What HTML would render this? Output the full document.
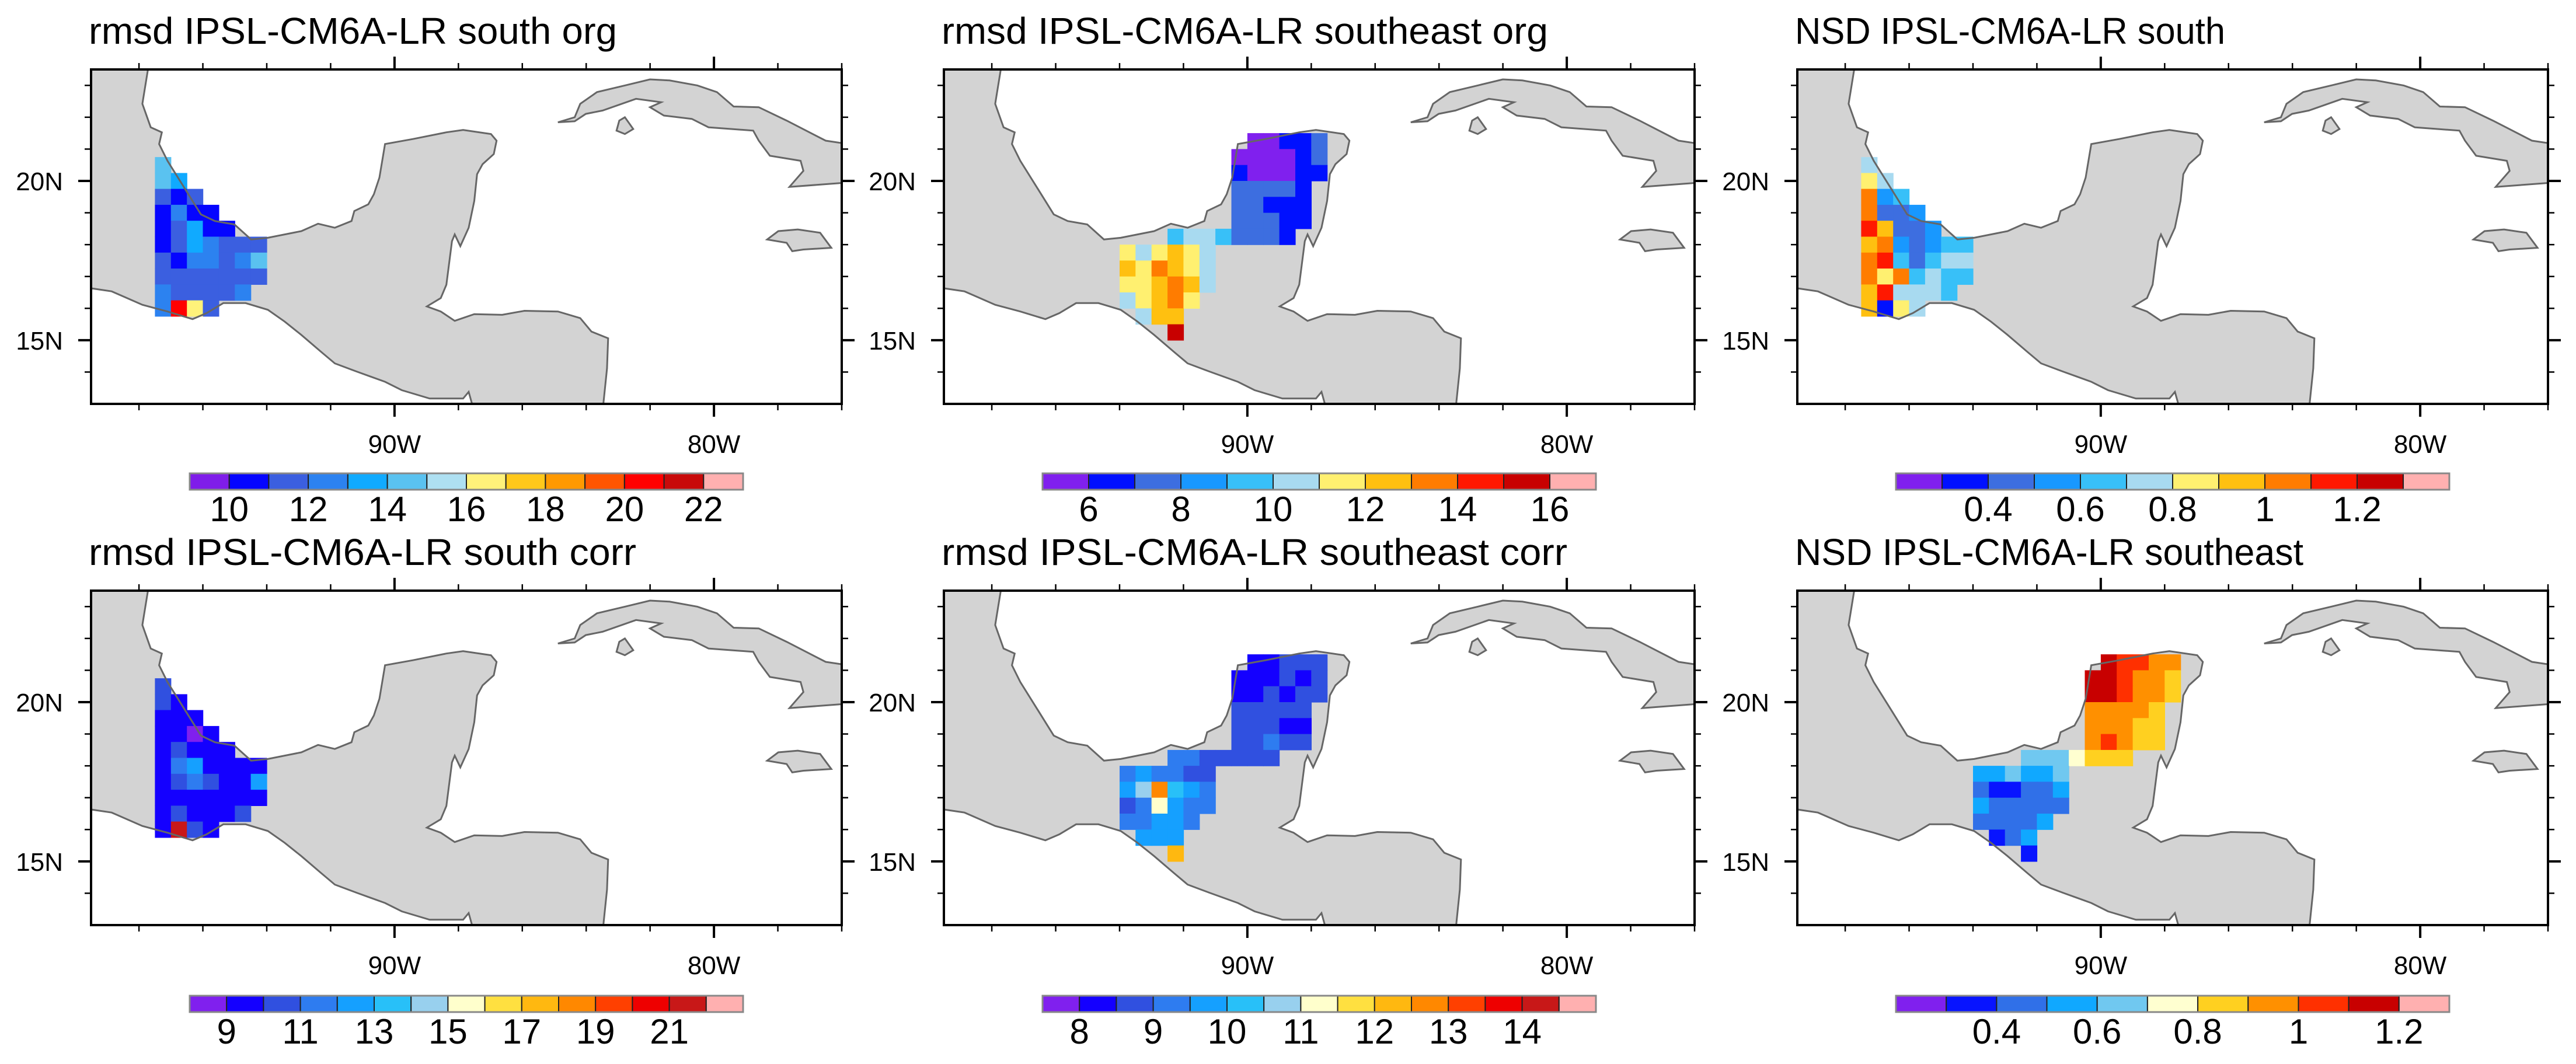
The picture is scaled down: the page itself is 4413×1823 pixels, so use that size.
<!DOCTYPE html>
<html><head><meta charset="utf-8"><title>IPSL-CM6A-LR rmsd / NSD maps</title>
<style>html,body{margin:0;padding:0;background:#fff;}svg{display:block;}</style></head>
<body>
<svg id="fig" xmlns="http://www.w3.org/2000/svg" width="4413" height="1823" viewBox="0 0 4413 1823" font-family="'Liberation Sans', sans-serif"></svg>
<script>
// ---------- data ----------
const titles = ["rmsd IPSL-CM6A-LR south org","rmsd IPSL-CM6A-LR southeast org","NSD IPSL-CM6A-LR south",
                "rmsd IPSL-CM6A-LR south corr","rmsd IPSL-CM6A-LR southeast corr","NSD IPSL-CM6A-LR southeast"];
const xTickLabels = ["90W","80W"];
const xTickLons = [-90,-80];
const yTickLabels = ["20N","15N"];
const yTickLats = [20,15];
// colorbar definitions: first interior level (boundary 1), box step, label texts and their boundary index
const cb1Start = 10,  cb1Step = 1,   cb1Labels = ["10","12","14","16","18","20","22"], cb1LabelIdx = [1,3,5,7,9,11,13];
const cb2Start = 6,   cb2Step = 1,   cb2Labels = ["6","8","10","12","14","16"], cb2LabelIdx = [1,3,5,7,9,11];
const cb3Start = 0.3, cb3Step = 0.1, cb3Labels = ["0.4","0.6","0.8","1","1.2"], cb3LabelIdx = [2,4,6,8,10];
const cb4Start = 9,   cb4Step = 1,   cb4Labels = ["9","11","13","15","17","19","21"], cb4LabelIdx = [1,3,5,7,9,11,13];
const cb5Start = 8,   cb5Step = 0.5, cb5Labels = ["8","9","10","11","12","13","14"], cb5LabelIdx = [1,3,5,7,9,11,13];
const cb6Start = 0.3, cb6Step = 0.1, cb6Labels = ["0.4","0.6","0.8","1","1.2"], cb6LabelIdx = [2,4,6,8,10];
const pal14 = ["#7f1de9","#0505ff","#3b5fe0","#2c82f0","#10aaff","#5ac2f0","#aee0f2","#fff27a","#ffc81a","#ff9900","#ff5500","#ff0000","#c80a0a","#ffb0b0"];
const pal12 = ["#8020ee","#0010ff","#3d6ee0","#1898ff","#38c0f8","#a8daf0","#fff070","#ffc010","#ff7c00","#ff1800","#c80000","#ffb0b0"];
const pal15 = ["#8020ee","#1400ff","#3050e0","#2e7cf0","#15a0ff","#28c0f8","#98d0ee","#ffffcc","#ffe040","#ffb810","#ff8800","#ff4000","#ee0000","#c81818","#ffb0b0"];
const pal11 = ["#8020ee","#0814ff","#3070e8","#10a8ff","#70c8f0","#ffffd0","#ffd020","#ff9000","#ff3000","#c80000","#ffb0b0"];
const n = null;
// south grids: origin lon -97.5, top lat 20.75, 0.5 deg cells
const southOrg = [
 [14,n,n,n,n,n,n],[14,13,n,n,n,n,n],[11,10.5,11,n,n,n,n],[10.5,12,10.5,10.5,n,n,n],
 [10,11,13,10.5,10.5,n,n],[10.5,11,13.5,12,11,11.5,11],[11,10.5,12,12,11,12,14],
 [11,11,11,11,11,11.5,11.5],[12,11,11.5,11,11.5,12,n],[12,20,16,11,n,n,n]];
const southCorr = [
 [10.5,n,n,n,n,n,n],[10,9.5,n,n,n,n,n],[9.5,9.5,9.5,n,n,n,n],[9.5,9.5,8.5,9.5,n,n,n],
 [9.5,10.5,9.5,9.5,9.5,n,n],[9.5,11.5,12.5,9.5,9.5,9.5,9.5],[9.5,10,11,10.5,9.5,9.5,12],
 [9.5,9.5,9.5,9.5,9.5,9.5,9.5],[9.5,10.5,9.5,9.5,9.5,10,n],[9.5,21,10.5,9.5,n,n,n]];
const southNsd = [
 [0.7,n,n,n,n,n,n],[0.8,0.75,n,n,n,n,n],[1.0,0.5,0.6,n,n,n,n],[1.05,0.45,0.4,0.55,n,n,n],
 [1.1,0.9,0.45,0.45,0.55,n,n],[0.95,1.05,0.5,0.4,0.55,0.6,0.65],[1.0,1.1,0.6,0.45,0.6,0.75,0.7],
 [1.05,0.85,1.0,0.6,0.7,0.65,0.6],[0.95,1.15,0.75,0.7,0.7,0.65,n],[0.9,0.35,0.8,0.7,n,n,n]];
// southeast grids: origin lon -94, top lat 21.5, 0.5 deg cells, 14 cols
const seOrg = [
 [n,n,n,n,n,n,n, n,5.5,5.5,6,6.5,7,n],[n,n,n,n,n,n,n, 5.5,5.5,5.5,5.5,6,7,n],
 [n,n,n,n,n,n,n, 6,5.5,5.5,5.5,6.5,6.5,n],[n,n,n,n,n,n,n, 7,7,7,7,6.5,n,n],
 [n,n,n,n,n,n,n, 7,7,6.5,6.5,6.5,n,n],[n,n,n,n,n,n,n, 7,7,7,6.5,6.5,n,n],
 [n,n,n,9.5,10.5,10,9.5, 7,7,7,6.5,n,n,n],[11,10.5,11,12,11.5,10.5,n, n,n,n,n,n,n,n],
 [12,11,13,12.5,11,10.5,n, n,n,n,n,n,n,n],[11.5,11,12,13,12,10.5,n, n,n,n,n,n,n,n],
 [10.5,11,12.5,13,11.5,n,n, n,n,n,n,n,n,n],[n,10.5,12,12.5,n,n,n, n,n,n,n,n,n,n],
 [n,n,n,15,n,n,n, n,n,n,n,n,n,n]];
const seCorr = [
 [n,n,n,n,n,n,n, n,8.2,8.2,8.7,8.7,8.7,n],[n,n,n,n,n,n,n, 8.2,8.2,8.2,8.7,8.2,8.7,n],
 [n,n,n,n,n,n,n, 8.2,8.2,8.7,8.2,8.7,8.7,n],[n,n,n,n,n,n,n, 8.7,8.7,8.7,8.7,8.7,n,n],
 [n,n,n,n,n,n,n, 8.7,8.7,8.7,8.2,8.2,n,n],[n,n,n,n,n,n,n, 8.7,8.7,9.2,8.7,8.7,n,n],
 [n,n,n,9.2,9.2,8.7,8.7, 8.7,8.7,8.7,n,n,n,n],[9.2,9.7,9.2,9.2,8.7,8.7,n, n,n,n,n,n,n,n],
 [9.7,10.7,12.7,10.2,9.7,9.2,n, n,n,n,n,n,n,n],[8.7,9.2,11.2,9.7,9.2,9.2,n, n,n,n,n,n,n,n],
 [9.2,9.2,9.7,9.7,9.2,n,n, n,n,n,n,n,n,n],[n,9.7,9.7,9.7,n,n,n, n,n,n,n,n,n,n],
 [n,n,n,12.2,n,n,n, n,n,n,n,n,n,n]];
const seNsd = [
 [n,n,n,n,n,n,n, n,1.15,1.05,1.0,0.95,0.9,n],[n,n,n,n,n,n,n, 1.15,1.15,1.05,0.95,0.9,0.85,n],
 [n,n,n,n,n,n,n, 1.15,1.1,1.0,0.95,0.9,0.8,n],[n,n,n,n,n,n,n, 0.95,0.95,0.9,0.9,0.85,n,n],
 [n,n,n,n,n,n,n, 0.95,0.95,0.9,0.85,0.85,n,n],[n,n,n,n,n,n,n, 0.95,1.0,0.95,0.85,0.85,n,n],
 [n,n,n,0.6,0.65,0.65,0.75, 0.85,0.85,0.85,n,n,n,n],[0.55,0.55,0.6,0.55,0.55,0.6,n, n,n,n,n,n,n,n],
 [0.4,0.35,0.35,0.4,0.45,0.55,n, n,n,n,n,n,n,n],[0.55,0.45,0.4,0.45,0.45,0.4,n, n,n,n,n,n,n,n],
 [0.45,0.4,0.45,0.45,0.55,n,n, n,n,n,n,n,n,n],[n,0.35,0.45,0.5,n,n,n, n,n,n,n,n,n,n],
 [n,n,n,0.35,n,n,n, n,n,n,n,n,n,n]];

// ---------- layout ----------
const NS = "http://www.w3.org/2000/svg";
const svg = document.getElementById("fig");
const colX = [156,1617,3079], rowY = [119,1012];
const W = 1286, H = 573;
const LON0 = -99.5, LON1 = -76.0, LAT0 = 13.0, LAT1 = 23.5;
function xs(lon){ return (lon-LON0)/(LON1-LON0)*W; }
function ys(lat){ return (LAT1-lat)/(LAT1-LAT0)*H; }
function el(tag, attrs, parent){ const e=document.createElementNS(NS,tag); for(const k in attrs) e.setAttribute(k,attrs[k]); (parent||svg).appendChild(e); return e; }

function toLL(pts){ return pts.map(p=>[LON0+(p[0]/1.045-156)/54.8, LAT1-(p[1]/1.742-119)/54.6]); }
const mainland = toLL([[120,150],[265,150],[265,207],[255,310],[270,380],[290,395],[285,430],[300,480],[330,560],[360,640],[385,660],[420,670],[450,715],[480,710],[540,690],[570,668],[600,680],[630,660],[635,630],[660,610],[670,580],[680,530],[690,430],[740,415],[800,395],[830,388],[880,400],[890,420],[885,460],[865,490],[855,520],[850,600],[840,680],[825,735],[815,700],[810,720],[800,850],[790,890],[765,915],[790,930],[815,958],[850,938],[900,940],[940,928],[1000,930],[1040,950],[1060,990],[1090,1010],[1088,1100],[1078,1260],[855,1260],[840,1170],[830,1190],[770,1190],[720,1165],[690,1140],[640,1110],[600,1085],[575,1050],[540,1000],[510,960],[480,925],[440,905],[400,905],[370,935],[345,953],[300,930],[255,910],[200,870],[120,850]]);
const cuba = toLL([[1000,365],[1030,350],[1040,310],[1070,275],[1120,255],[1165,237],[1200,240],[1250,255],[1285,275],[1315,318],[1360,320],[1410,360],[1480,420],[1560,440],[1560,540],[1415,558],[1440,510],[1435,480],[1380,465],[1360,420],[1350,390],[1270,380],[1240,355],[1190,345],[1165,320],[1185,305],[1140,295],[1080,330],[1050,340],[1030,362]]);
const jamaica = toLL([[1375,715],[1395,690],[1430,685],[1470,695],[1490,740],[1440,745],[1420,750],[1410,725]]);
const isla = toLL([[1105,390],[1110,360],[1120,350],[1135,385],[1120,400]]);
const lands = [["mainland",mainland],["cuba",cuba],["jamaica",jamaica],["isla-juventud",isla]];

const panels = [
 {grid:southOrg, lon0:-97.5, lat0:20.75, pal:pal14, s:cb1Start, st:cb1Step, lab:cb1Labels, li:cb1LabelIdx},
 {grid:seOrg,    lon0:-94,   lat0:21.5,  pal:pal12, s:cb2Start, st:cb2Step, lab:cb2Labels, li:cb2LabelIdx},
 {grid:southNsd, lon0:-97.5, lat0:20.75, pal:pal12, s:cb3Start, st:cb3Step, lab:cb3Labels, li:cb3LabelIdx},
 {grid:southCorr,lon0:-97.5, lat0:20.75, pal:pal15, s:cb4Start, st:cb4Step, lab:cb4Labels, li:cb4LabelIdx},
 {grid:seCorr,   lon0:-94,   lat0:21.5,  pal:pal15, s:cb5Start, st:cb5Step, lab:cb5Labels, li:cb5LabelIdx},
 {grid:seNsd,    lon0:-94,   lat0:21.5,  pal:pal11, s:cb6Start, st:cb6Step, lab:cb6Labels, li:cb6LabelIdx}];
const D = 0.5;

panels.forEach((p,i)=>{
  const ox = colX[i%3], oy = rowY[Math.floor(i/3)];
  const g = el("g",{transform:`translate(${ox},${oy})`});
  
  
  const t = el("text",{x:-4,y:-44,"font-size":64,fill:"#000",textLength:Math.round(titles[i].length*33.5),lengthAdjust:"spacingAndGlyphs"},g);
  t.textContent = titles[i];
  
  
  const cp = el("clipPath",{id:"clip"+i},g);
  el("rect",{x:0,y:0,width:W,height:H},cp);
  const inner = el("g",{"clip-path":`url(#clip${i})`},g);
  lands.forEach(([nm,pts])=>{
    const d = "M"+pts.map(q=>xs(q[0]).toFixed(1)+","+ys(q[1]).toFixed(1)).join("L")+"Z";
    const lp = el("path",{d:d,fill:"#d3d3d3",stroke:"none"},inner);
    
    
  });
  const cells = el("g",{},inner);
  
  
  p.grid.forEach((row,r)=>row.forEach((v,c)=>{
    if(v===null) return;
    let k = Math.floor((v-p.s)/p.st+1e-9)+1; k = Math.max(0,Math.min(p.pal.length-1,k));
    const lon = p.lon0 + c*D, lat = p.lat0 - r*D;
    const x0 = xs(lon), x1 = xs(lon+D), y0 = ys(lat), y1 = ys(lat-D);
    const rc = el("rect",{x:x0.toFixed(1),y:y0.toFixed(1),width:(x1-x0+0.6).toFixed(1),height:(y1-y0+0.6).toFixed(1),fill:p.pal[k]},cells);
    
    
  }));
  lands.forEach(([nm,pts])=>{
    const d = "M"+pts.map(q=>xs(q[0]).toFixed(1)+","+ys(q[1]).toFixed(1)).join("L")+"Z";
    el("path",{d:d,fill:"none",stroke:"#666","stroke-width":3},inner);
  });
  const frame = el("rect",{x:0,y:0,width:W,height:H,fill:"none",stroke:"#000","stroke-width":4},g);
  
  
  for(let lon=-98; lon<=-76; lon+=2){
    const x = xs(lon), major = xTickLons.includes(lon), L = major?22:11;
    el("line",{x1:x,y1:0,x2:x,y2:-L,stroke:"#000","stroke-width":major?4:2.5},g);
    el("line",{x1:x,y1:H,x2:x,y2:H+L,stroke:"#000","stroke-width":major?4:2.5},g);
  }
  for(let lat=14; lat<=23; lat+=1){
    const y = ys(lat), major = yTickLats.includes(lat), L = major?22:11;
    el("line",{x1:0,y1:y,x2:-L,y2:y,stroke:"#000","stroke-width":major?4:2.5},g);
    el("line",{x1:W,y1:y,x2:W+L,y2:y,stroke:"#000","stroke-width":major?4:2.5},g);
  }
  xTickLabels.forEach((s,j)=>{
    const tx = el("text",{x:xs(xTickLons[j]),y:H+84,"font-size":44,"text-anchor":"middle",fill:"#000"},g);
    tx.textContent = s;
    
    
  });
  yTickLabels.forEach((s,j)=>{
    const ty = el("text",{x:-48,y:ys(yTickLats[j])+16,"font-size":44,"text-anchor":"end",fill:"#000"},g);
    ty.textContent = s;
    
    
  });
  const cb = el("g",{transform:`translate(169,${i<3?692:694})`},g);
  
  
  const cw = 948, bw = cw/p.pal.length;
  p.pal.forEach((c,k)=>{
    const b = el("rect",{x:(k*bw).toFixed(1),y:0,width:bw.toFixed(1),height:28,fill:c,stroke:"#222","stroke-width":2},cb);
    
    
  });
  el("rect",{x:0,y:0,width:cw,height:28,fill:"none",stroke:"#888","stroke-width":3},cb);
  p.lab.forEach((s,j)=>{
    const lt = el("text",{x:(p.li[j]*bw).toFixed(1),y:82,"font-size":60,"text-anchor":"middle",fill:"#000"},cb);
    lt.textContent = s;
    
    
  });
});
</script>
</body></html>
